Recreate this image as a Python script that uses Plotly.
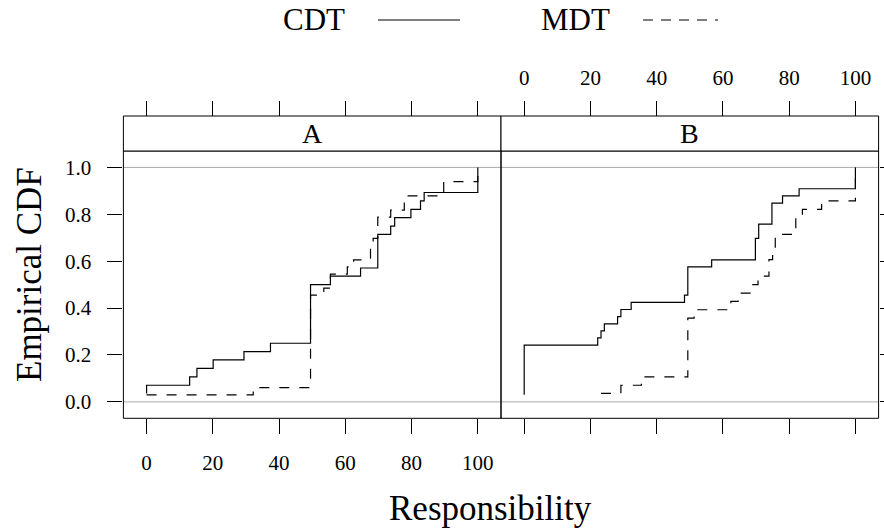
import plotly.graph_objects as go

panels = ["A", "B"]
series = ["CDT", "MDT"]

# Panel A (step points of the empirical CDF)
a_cdt_x = [0, 0, 13, 15.2, 20.1, 29.4, 37.4, 49.5, 55.5, 64.6, 69.8, 73.7, 74.9, 79.8, 82.7, 83.8, 100]
a_cdt_y = [0.036, 0.071, 0.107, 0.143, 0.179, 0.214, 0.250, 0.500, 0.536, 0.571, 0.714, 0.750, 0.786, 0.821, 0.857, 0.893, 1.000]
a_mdt_x = [0, 32.2, 49.5, 53.5, 55.5, 60.6, 62.5, 67.6, 68.4, 69.8, 73.7, 77.8, 89.7, 100]
a_mdt_y = [0.030, 0.061, 0.455, 0.485, 0.545, 0.576, 0.606, 0.667, 0.697, 0.788, 0.818, 0.879, 0.939, 1.000]

# Panel B
b_cdt_x = [0, 0, 22.2, 23.2, 24.2, 28.2, 29.2, 32.3, 48.4, 49.4, 56.6, 69.8, 70.8, 74.8, 78, 83, 100]
b_cdt_y = [0.030, 0.242, 0.273, 0.303, 0.333, 0.364, 0.394, 0.424, 0.455, 0.576, 0.606, 0.697, 0.758, 0.848, 0.879, 0.909, 1.000]
b_mdt_x = [23.2, 29.2, 35.4, 49.4, 51.3, 62.4, 64.6, 68.7, 70.6, 73.9, 75, 75.8, 82, 84, 89.8, 100]
b_mdt_y = [0.036, 0.071, 0.107, 0.357, 0.393, 0.429, 0.464, 0.500, 0.536, 0.607, 0.643, 0.714, 0.786, 0.821, 0.857, 1.000]

x_ticks = [0, 20, 40, 60, 80, 100]
y_ticks = [0.0, 0.2, 0.4, 0.6, 0.8, 1.0]
x_range = [-7, 107]
y_range = [-0.07, 1.07]

W, H = 884, 530
FONT = "Liberation Serif"
L, MID, R = 123.4, 501.0, 878.6
PT, PB = 151.0, 418.3
ST = 116.0


def px(x):
    return x / W


def py(y):
    return 1 - y / H


fig = go.Figure()
line_solid = dict(color="black", width=1.2)
line_dash = dict(color="black", width=1.2, dash="10px,10px")
data = {
    ("A", "CDT"): (a_cdt_x, a_cdt_y),
    ("A", "MDT"): (a_mdt_x, a_mdt_y),
    ("B", "CDT"): (b_cdt_x, b_cdt_y),
    ("B", "MDT"): (b_mdt_x, b_mdt_y),
}
for p, (xa, ya) in (("A", ("x", "y")), ("B", ("x2", "y2"))):
    for s in series:
        xs, ys = data[(p, s)]
        fig.add_trace(go.Scatter(x=xs, y=ys, mode="lines", line_shape="hv",
                                 line=line_solid if s == "CDT" else line_dash,
                                 xaxis=xa, yaxis=ya, showlegend=False, hoverinfo="skip"))
# invisible traces so the top (overlay) axes are drawn
fig.add_trace(go.Scatter(x=[None], y=[None], xaxis="x3", yaxis="y", showlegend=False, hoverinfo="skip"))
fig.add_trace(go.Scatter(x=[None], y=[None], xaxis="x4", yaxis="y2", showlegend=False, hoverinfo="skip"))

tickfont = dict(family=FONT, size=21, color="black")
common_x = dict(range=x_range, tickvals=x_ticks, ticks="outside", ticklen=15, tickwidth=1,
                tickcolor="black", showgrid=False, zeroline=False, showline=False,
                tickfont=tickfont, fixedrange=True)
common_y = dict(range=y_range, tickvals=y_ticks, ticks="outside", ticklen=15, tickwidth=1,
                tickcolor="black", showgrid=False, zeroline=False, showline=False,
                tickfont=tickfont, fixedrange=True)
fig.update_layout(
    width=W, height=H, autosize=False,
    margin=dict(l=0, r=0, t=0, b=0, pad=0, autoexpand=False),
    paper_bgcolor="white", plot_bgcolor="white",
    font=dict(family=FONT, color="black"),
    xaxis=dict(domain=[px(L), px(MID)], anchor="y", showticklabels=True, ticklabelstandoff=10, **common_x),
    xaxis2=dict(domain=[px(MID), px(R)], anchor="y2", showticklabels=False, **common_x),
    xaxis3=dict(overlaying="x", anchor="free", position=py(ST), side="top", showticklabels=False, **common_x),
    xaxis4=dict(overlaying="x2", anchor="free", position=py(ST), side="top", showticklabels=True,
                ticklabelstandoff=8, **common_x),
    yaxis=dict(domain=[py(PB), py(PT)], anchor="x", showticklabels=True, tickformat=".1f",
               ticklabelstandoff=12, **common_y),
    yaxis2=dict(domain=[py(PB), py(PT)], anchor="x2", side="right", showticklabels=False, **common_y),
)

shapes = []
# reference lines at 0 and 1
for xr, yr in (("x domain", "y"), ("x2 domain", "y2")):
    for h in (0, 1):
        shapes.append(dict(type="line", xref=xr, yref=yr, x0=0, x1=1, y0=h, y1=h,
                           line=dict(color="#aaaaaa", width=1), layer="below"))
# panel frames and strips
for x0, x1 in ((L, MID), (MID, R)):
    shapes.append(dict(type="rect", xref="paper", yref="paper", x0=px(x0), x1=px(x1), y0=py(PB), y1=py(PT),
                       line=dict(color="black", width=1), fillcolor="rgba(0,0,0,0)"))
    shapes.append(dict(type="rect", xref="paper", yref="paper", x0=px(x0), x1=px(x1), y0=py(PT), y1=py(ST),
                       line=dict(color="black", width=1), fillcolor="white"))
# key samples
LEG_Y = 20
shapes.append(dict(type="line", xref="paper", yref="paper", x0=px(378), x1=px(460), y0=py(LEG_Y), y1=py(LEG_Y),
                   line=dict(color="black", width=1.2)))
shapes.append(dict(type="line", xref="paper", yref="paper", x0=px(643), x1=px(718), y0=py(LEG_Y), y1=py(LEG_Y),
                   line=dict(color="black", width=1.2, dash="10px,8px")))
fig.update_layout(shapes=shapes)

ann = []
for name, x0, x1 in (("A", L, MID), ("B", MID, R)):
    ann.append(dict(text=name, x=px((x0 + x1) / 2), y=py((ST + PT) / 2), xref="paper", yref="paper",
                    showarrow=False, xanchor="center", yanchor="middle",
                    font=dict(family=FONT, size=28, color="black")))
ann.append(dict(text="CDT", x=px(314), y=py(LEG_Y), xref="paper", yref="paper", showarrow=False,
                xanchor="center", yanchor="middle", font=dict(family=FONT, size=31, color="black")))
ann.append(dict(text="MDT", x=px(575), y=py(LEG_Y), xref="paper", yref="paper", showarrow=False,
                xanchor="center", yanchor="middle", font=dict(family=FONT, size=31, color="black")))
ann.append(dict(text="Empirical CDF", x=px(29), y=py(275), xref="paper", yref="paper",
                showarrow=False, textangle=-90, xanchor="center", yanchor="middle",
                font=dict(family=FONT, size=35, color="black")))
ann.append(dict(text="Responsibility", x=px(490), y=py(508), xref="paper", yref="paper",
                showarrow=False, xanchor="center", yanchor="middle",
                font=dict(family=FONT, size=35, color="black")))
fig.update_layout(annotations=ann)

fig.write_html("out.html")
